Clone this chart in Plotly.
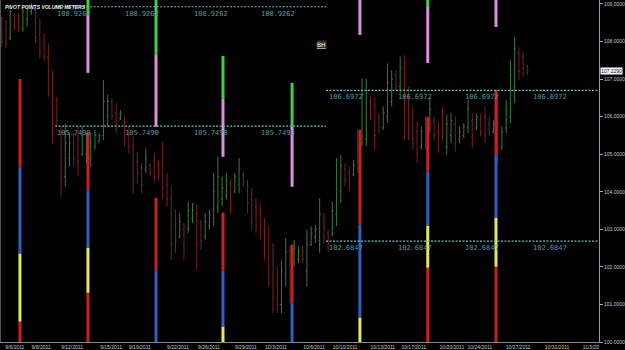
import plotly.graph_objects as go

# ---------------- data ----------------
high = [108.66,108.57,108.97,108.75,108.75,108.93,108.97,109.02,108.93,108.62,
        108.22,107.95,107.24,106.53,105.74,105.83,105.56,105.56,105.74,105.74,
        105.56,105.56,105.65,105.56,106.98,106.58,106.49,106.36,106.18,106.00,
        105.74,105.47,105.07,104.76,105.16,104.76,105.03,104.85,105.34,104.50,
        104.14,103.52,103.43,103.17,103.74,103.70,103.65,103.25,103.43,103.52,
        104.50,104.94,104.41,104.50,104.32,104.50,104.90,104.54,104.32,104.10,
        103.83,103.65,103.30,103.08,102.63,102.01,102.19,102.77,102.55,102.72,
        102.55,102.55,102.99,103.08,103.12,103.83,103.43,102.99,103.74,104.90,
        104.98,104.76,104.67,104.85,105.65,107.02,107.02,106.53,106.53,106.09,
        106.27,107.42,107.24,107.24,107.60,107.64,106.80,106.27,105.87,105.74,
        106.00,106.49,106.00,105.87,106.27,106.05,106.09,106.00,105.74,105.83,
        106.45,106.09,106.09,106.09,106.27,106.00,105.91,106.45,105.74,106.45,
        107.51,108.13,107.86,107.73,107.38]
low = [107.86,107.82,108.04,108.31,108.26,108.26,108.40,108.71,107.95,107.55,
       107.47,106.53,105.29,105.74,103.87,104.14,104.67,104.67,104.41,104.94,
       104.76,104.67,105.12,105.29,105.38,105.74,105.91,105.56,105.91,105.21,
       105.03,103.96,104.23,103.96,104.50,104.41,104.27,104.32,103.79,103.61,
       102.19,102.37,102.77,102.19,102.90,103.17,101.93,102.46,102.72,102.99,
       103.08,103.43,103.61,103.79,103.43,103.96,103.96,104.14,103.43,102.99,
       102.90,102.72,102.19,101.48,100.77,100.77,100.77,101.48,101.04,102.01,
       102.10,102.10,101.48,102.55,102.63,102.37,102.63,102.41,102.81,103.08,
       103.70,104.14,104.01,104.41,104.50,105.21,105.21,105.91,105.12,105.56,
       105.65,105.83,106.27,106.71,106.62,105.38,105.38,105.12,104.76,105.12,
       105.12,105.56,105.38,105.03,105.38,104.98,105.29,105.07,105.29,105.43,
       105.56,105.16,105.65,105.47,105.29,105.47,105.56,104.76,105.12,105.56,
       105.83,106.36,106.98,107.07,107.11]
open_ = [108.50,108.30,108.10,108.70,108.60,108.35,108.60,108.80,108.85,108.20,
         107.90,107.60,106.90,106.20,105.60,104.40,104.90,105.30,105.20,105.00,
         105.00,104.90,105.20,105.35,105.50,106.00,106.40,106.10,105.95,105.90,
         105.50,105.20,104.80,104.60,104.60,104.70,104.80,104.70,104.70,104.20,
         103.80,103.10,102.80,103.00,103.00,103.30,103.40,103.10,102.80,103.10,
         103.30,103.60,103.80,103.90,104.20,104.00,104.20,104.45,104.20,103.80,
         103.60,103.40,103.00,102.80,102.20,101.60,101.00,101.80,102.40,102.10,
         102.20,102.45,101.90,102.60,102.80,102.70,103.30,102.90,102.90,103.40,
         104.00,104.60,104.50,104.45,105.20,105.30,105.40,106.40,106.30,106.00,
         105.70,106.00,106.40,107.10,106.80,107.30,106.40,106.00,105.60,105.20,
         105.80,105.70,105.90,105.60,106.00,105.20,105.50,105.80,105.40,105.50,
         105.70,105.90,105.70,105.95,106.00,105.80,105.60,105.90,105.20,105.70,
         106.00,106.80,107.70,107.60,107.35]
close = [108.00,107.95,108.80,108.40,108.35,108.80,108.85,108.95,108.10,107.70,
         107.60,106.70,105.60,105.90,104.40,105.30,105.30,104.90,104.80,105.50,
         105.40,105.30,105.50,105.50,106.40,106.40,106.00,105.80,106.10,105.40,
         105.20,104.40,104.50,104.20,104.90,104.50,104.40,104.50,104.10,103.80,
         102.60,102.70,103.20,102.50,103.50,103.50,102.60,102.70,103.20,103.40,
         104.00,104.40,104.10,104.30,103.70,104.40,104.60,104.25,103.70,103.20,
         103.10,102.90,102.40,101.80,101.20,101.00,101.90,102.40,101.60,102.50,
         102.40,102.20,102.60,102.90,103.00,103.40,102.80,102.60,103.50,104.50,
         104.70,104.30,104.20,104.70,104.80,106.60,106.70,106.00,105.50,105.70,
         106.10,106.90,107.00,106.80,107.30,105.80,105.70,105.40,105.00,105.60,
         105.40,106.20,105.50,105.20,105.60,105.80,105.90,105.30,105.60,105.75,
         106.20,105.40,106.00,105.60,105.50,105.60,105.80,105.20,105.60,106.20,
         107.10,107.80,107.20,107.30,107.23]
bar_index = list(range(len(high)))

date_labels = ["9/6/2011","9/8/2011","9/12/2011","9/15/2011","9/19/2011","9/22/2011",
               "9/26/2011","9/29/2011","10/3/2011","10/6/2011","10/10/2011","10/13/2011",
               "10/17/2011","10/20/2011","10/24/2011","10/27/2011","10/31/2011","11/3/20"]
date_pos = [3.1,9.3,16.6,25.8,32.6,41.6,48.9,57.6,64.7,73.7,81.0,89.9,97.2,106.2,112.8,121.8,131.0,139.0]

# pivot levels (dashed)
pivot_levels = [108.9262, 105.7490, 106.6972, 102.6847]
pivot_from = [12.6, 12.6, 76.5, 76.5]
pivot_to = [76.5, 76.5, 140.9, 140.9]
pivot_label_pos = [[12.6, 28.6, 44.9, 60.7], [12.6, 28.6, 44.9, 60.7],
                   [76.7, 93.0, 108.8, 124.8], [76.7, 93.0, 108.8, 124.8]]

# volume meters: x position and (low, high, colour-name) segments
meter_x = [4.3, 20.35, 36.4, 52.2, 68.5, 84.5, 100.5, 116.6]
meter_segments = [
    [(104.638, 107.005, "red"), (102.351, 104.638, "blue"), (100.542, 102.351, "yellow"), (100.0, 100.542, "red")],
    [(107.165, 108.707, "pink"), (108.707, 109.106, "green"),
     (104.053, 105.569, "red"), (102.510, 104.053, "blue"), (101.313, 102.510, "yellow"), (100.0, 101.313, "red")],
    [(105.728, 107.643, "pink"), (107.643, 109.106, "green"),
     (101.899, 103.840, "red"), (100.0, 101.899, "blue")],
    [(104.930, 106.473, "pink"), (106.473, 107.617, "green"),
     (101.899, 103.441, "red"), (100.409, 101.899, "blue"), (100.0, 100.409, "yellow")],
    [(104.133, 105.729, "pink"), (105.729, 106.899, "green"),
     (101.047, 102.590, "red"), (100.0, 101.047, "blue")],
    [(108.175, 109.106, "pink"),
     (103.122, 105.649, "red"), (100.649, 103.122, "blue"), (100.0, 100.649, "yellow")],
    [(107.43, 108.92, "pink"), (108.92, 109.106, "green"),
     (104.532, 105.994, "red"), (103.095, 104.532, "blue"), (101.978, 103.095, "yellow"), (100.0, 101.978, "red")],
    [(108.388, 109.106, "pink"),
     (104.984, 106.712, "red"), (103.308, 104.984, "blue"), (102.005, 103.308, "yellow"), (100.0, 102.005, "red")],
]

last_price = 107.2290
y_ticks = [100, 101, 102, 103, 104, 105, 106, 107, 108, 109]

# ---------------- styles ----------------
meter_colors = {"red": "#c62222", "blue": "#2f5fbf", "yellow": "#e6e65c",
                "green": "#3fd03f", "pink": "#dc8fdc"}
UP = "#3b783b"
DOWN = "#782222"
LEVEL = "#6fbdbd"
LABEL = "#5a969c"

fig = go.Figure()

# meters (drawn first, bars on top)
for cname, col in meter_colors.items():
    xs, ys = [], []
    for mx, segs in zip(meter_x, meter_segments):
        for lo, hi, c in segs:
            if c == cname:
                xs += [mx, mx, None]
                ys += [lo, hi, None]
    if xs:
        fig.add_trace(go.Scatter(x=xs, y=ys, mode="lines",
                                 line=dict(color=col, width=3),
                                 showlegend=False, hoverinfo="skip"))

fig.add_trace(go.Ohlc(x=bar_index, open=open_, high=high, low=low, close=close,
                      increasing=dict(line=dict(color=UP, width=1)),
                      decreasing=dict(line=dict(color=DOWN, width=1)),
                      tickwidth=0.3, showlegend=False, hoverinfo="skip"))

# pivot levels
for lvl, x0, x1, lpos in zip(pivot_levels, pivot_from, pivot_to, pivot_label_pos):
    fig.add_trace(go.Scatter(x=[x0, x1], y=[lvl, lvl], mode="lines",
                             line=dict(color=LEVEL, width=1.2, dash="2px,1.5px"),
                             showlegend=False, hoverinfo="skip"))
    for lx in lpos:
        fig.add_annotation(x=lx, y=lvl, xref="x", yref="y", text=f"{lvl:.4f}",
                           showarrow=False, xanchor="left", yanchor="top", yshift=-1,
                           font=dict(family="DejaVu Sans Mono", size=7, color=LABEL))

# title
fig.add_annotation(x=0.005, y=1, xref="paper", yref="paper", yshift=-2,
                   text="<b><i>PIVOT POINTS VOLUME METERS</i></b>",
                   showarrow=False, xanchor="left", yanchor="top",
                   font=dict(family="Liberation Sans", size=5, color="#e8e8e8"))
# BH label
fig.add_annotation(x=75.5, y=107.91, xref="x", yref="y", text="<u>BH</u>",
                   showarrow=False, font=dict(family="DejaVu Sans", size=6, color="#ffffff"),
                   bgcolor="#303030", borderpad=0)
# current price label
fig.add_annotation(x=1, y=last_price, xref="paper", yref="y", text=f"{last_price:.4f}",
                   showarrow=False, xanchor="left", xshift=1,
                   font=dict(family="Liberation Sans", size=5, color="#000000"),
                   bgcolor="#ffffff", borderpad=0)

fig.update_layout(
    width=625, height=350,
    margin=dict(l=0, r=26, t=0, b=8),
    paper_bgcolor="#000000", plot_bgcolor="#000000",
    showlegend=False,
    xaxis=dict(range=[-0.4, 140.9], rangeslider=dict(visible=False),
               showgrid=False, zeroline=False,
               tickmode="array", tickvals=date_pos, ticktext=date_labels,
               tickfont=dict(family="Liberation Sans", size=5, color="#c8c8c8"),
               ticks="", showline=True, linecolor="#8a8a8a", linewidth=1),
    yaxis=dict(range=[100.0, 109.106], side="right", showgrid=False, zeroline=False,
               tickmode="array", tickvals=y_ticks,
               ticktext=[f"{v:.4f}" for v in y_ticks],
               tickfont=dict(family="Liberation Sans", size=5, color="#c8c8c8"),
               ticks="outside", ticklen=3, tickcolor="#aaaaaa",
               showline=True, linecolor="#9a9a9a", linewidth=1),
)
# left border
fig.add_shape(type="line", xref="paper", yref="paper", x0=0, x1=0, y0=0, y1=1,
              line=dict(color="#555555", width=2))

fig.write_html("out.html")
